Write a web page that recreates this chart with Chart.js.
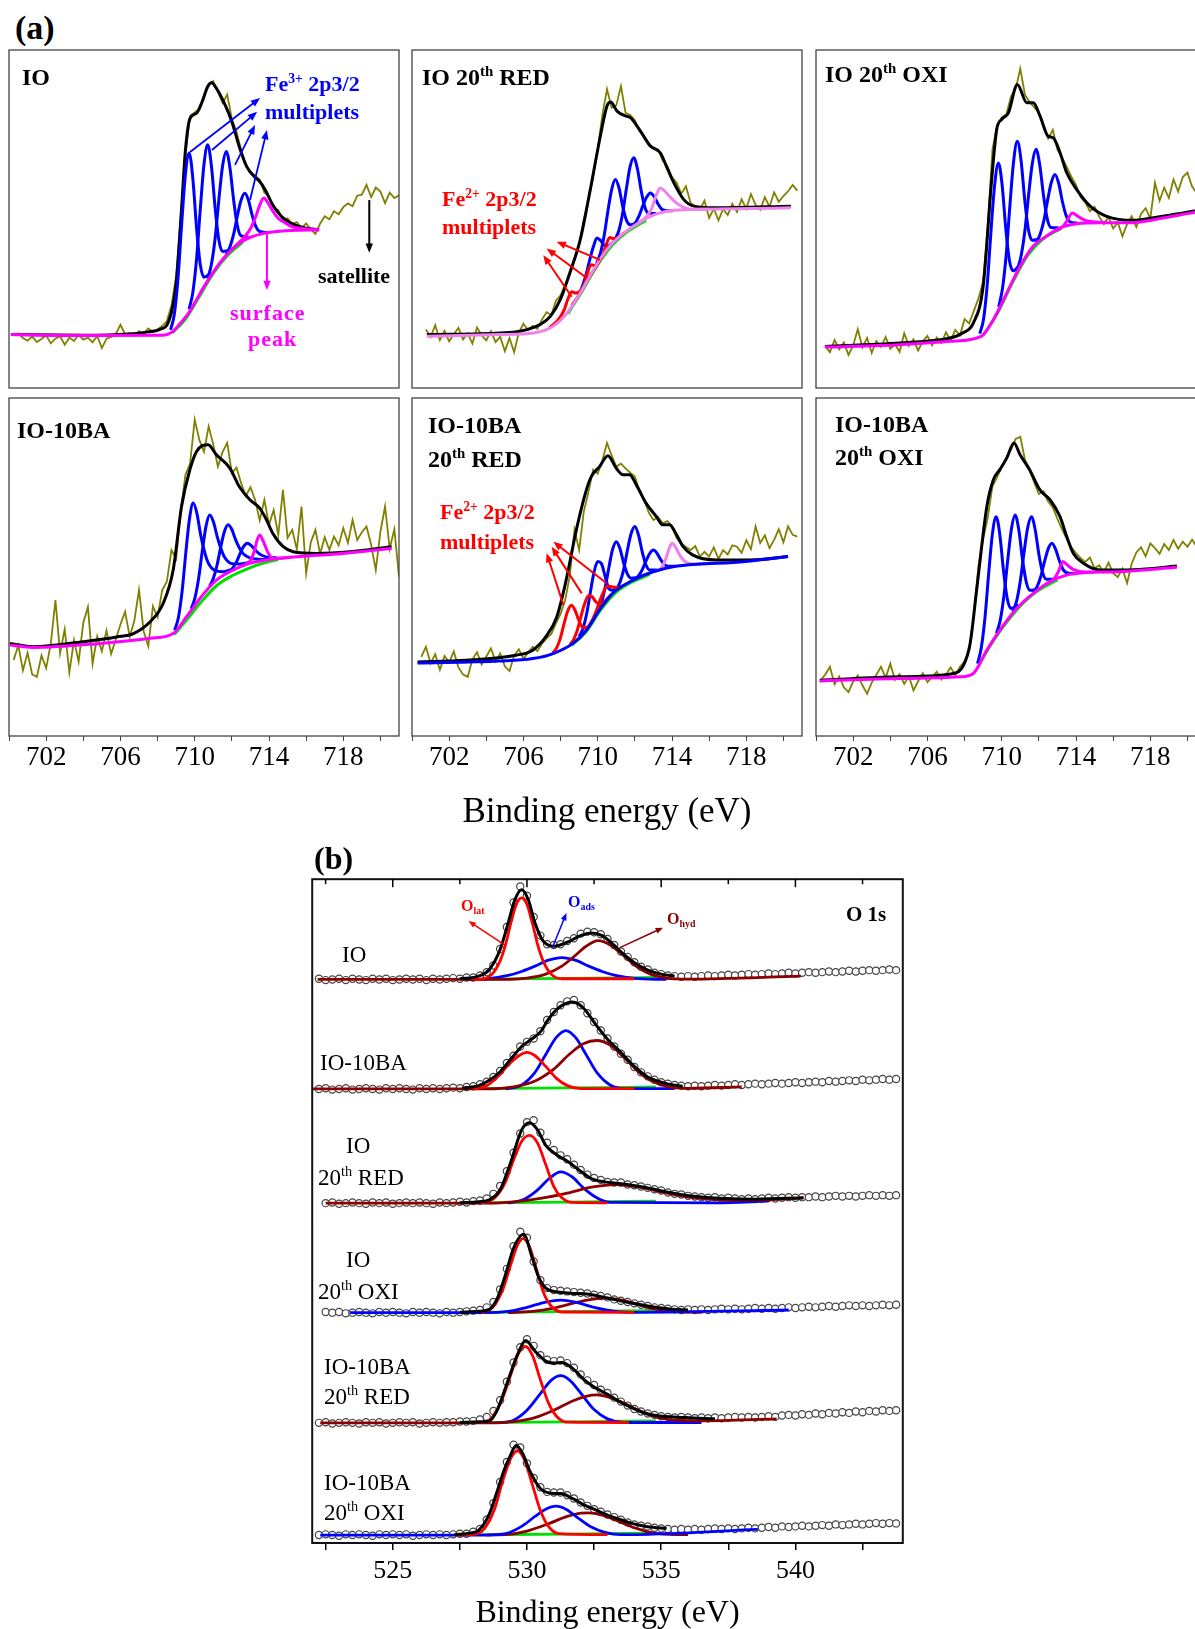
<!DOCTYPE html>
<html>
<head>
<meta charset="utf-8">
<script src="https://cdn.jsdelivr.net/npm/chart.js@4.4.0/dist/chart.umd.min.js"></script>
<style>
  body { margin: 0; width: 1195px; height: 1629px; overflow: hidden; background: #fff; position: relative; }
  .box { position: absolute; }
  .t { position: absolute; line-height: 1; transform: translateY(-50%); white-space: nowrap;
       font-family: 'Liberation Serif', 'Times New Roman', serif; color: #000; }
  .b { font-weight: bold; }
  .t sup { font-size: 62%; position: relative; top: -0.62em; vertical-align: baseline; line-height: 0; }
  .t sub { font-size: 62%; position: relative; top: 0.3em; vertical-align: baseline; line-height: 0; }
</style>
</head>
<body>
<div class="box" style="left:7px;top:48px"><canvas id="fe1" width="394" height="342"></canvas></div>
<div class="box" style="left:410px;top:48px"><canvas id="fe2" width="394" height="342"></canvas></div>
<div class="box" style="left:814px;top:48px"><canvas id="fe3" width="394" height="342"></canvas></div>
<div class="box" style="left:7px;top:396px"><canvas id="fe4" width="394" height="402"></canvas></div>
<div class="box" style="left:410px;top:396px"><canvas id="fe5" width="394" height="438"></canvas></div>
<div class="box" style="left:814px;top:396px"><canvas id="fe6" width="394" height="402"></canvas></div>
<div class="box" style="left:307px;top:874px"><canvas id="o1s" width="601" height="759"></canvas></div>

<!-- panel (a) labels -->
<div class="t b" style="left:15px;top:28px;font-size:34px">(a)</div>
<div class="t b" style="left:22px;top:77px;font-size:24px">IO</div>
<div class="t b" style="left:265px;top:84px;font-size:22px;color:#0000ff">Fe<sup>3+</sup> 2p3/2</div>
<div class="t b" style="left:265px;top:112px;font-size:22px;color:#0000ff">multiplets</div>
<div class="t b" style="left:318px;top:276px;font-size:22px">satellite</div>
<div class="t b" style="left:230px;top:313px;font-size:22px;color:#ff00ff;letter-spacing:1px">surface</div>
<div class="t b" style="left:248px;top:339px;font-size:22px;color:#ff00ff;letter-spacing:1px">peak</div>
<div class="t b" style="left:422px;top:77px;font-size:24px">IO 20<sup>th</sup> RED</div>
<div class="t b" style="left:442px;top:199px;font-size:22px;color:#ff0000">Fe<sup>2+</sup> 2p3/2</div>
<div class="t b" style="left:442px;top:227px;font-size:22px;color:#ff0000">multiplets</div>
<div class="t b" style="left:825px;top:74px;font-size:24px">IO 20<sup>th</sup> OXI</div>
<div class="t b" style="left:17px;top:430px;font-size:24px">IO-10BA</div>
<div class="t b" style="left:428px;top:425px;font-size:24px">IO-10BA</div>
<div class="t b" style="left:428px;top:459px;font-size:24px">20<sup>th</sup> RED</div>
<div class="t b" style="left:440px;top:512px;font-size:22px;color:#ff0000">Fe<sup>2+</sup> 2p3/2</div>
<div class="t b" style="left:440px;top:542px;font-size:22px;color:#ff0000">multiplets</div>
<div class="t b" style="left:835px;top:424px;font-size:24px">IO-10BA</div>
<div class="t b" style="left:835px;top:457px;font-size:24px">20<sup>th</sup> OXI</div>

<!-- panel (b) labels -->
<div class="t b" style="left:314px;top:858px;font-size:32px">(b)</div>
<div class="t b" style="left:846px;top:914px;font-size:21px">O 1s</div>
<div class="t b" style="left:461px;top:906px;font-size:16px;color:#ff0000">O<sub>lat</sub></div>
<div class="t b" style="left:568px;top:902px;font-size:16px;color:#0000ff">O<sub>ads</sub></div>
<div class="t b" style="left:667px;top:919px;font-size:16px;color:#8b0000">O<sub>hyd</sub></div>
<div class="t" style="left:342px;top:954px;font-size:23px">IO</div>
<div class="t" style="left:320px;top:1062px;font-size:23px">IO-10BA</div>
<div class="t" style="left:346px;top:1145px;font-size:23px">IO</div>
<div class="t" style="left:318px;top:1177px;font-size:23px">20<sup>th</sup> RED</div>
<div class="t" style="left:346px;top:1259px;font-size:23px">IO</div>
<div class="t" style="left:318px;top:1291px;font-size:23px">20<sup>th</sup> OXI</div>
<div class="t" style="left:324px;top:1366px;font-size:23px">IO-10BA</div>
<div class="t" style="left:324px;top:1396px;font-size:23px">20<sup>th</sup> RED</div>
<div class="t" style="left:324px;top:1482px;font-size:23px">IO-10BA</div>
<div class="t" style="left:324px;top:1512px;font-size:23px">20<sup>th</sup> OXI</div>

<script>
// ---------- (a) Fe 2p3/2 : measured energy grid (eV) ----------
const feGrid = [
  700.25,700.5,700.75,701,701.25,701.5,701.75,702,
  702.25,702.5,702.75,703,703.25,703.5,703.75,704,
  704.25,704.5,704.75,705,705.25,705.5,705.75,706,
  706.25,706.5,706.75,707,707.25,707.5,707.75,708,
  708.25,708.5,708.75,709,709.25,709.5,709.75,710,
  710.25,710.5,710.75,711,711.25,711.5,711.75,712,
  712.25,712.5,712.75,713,713.25,713.5,713.75,714,
  714.25,714.5,714.75,715,715.25,715.5,715.75,716,
  716.25,716.5,716.75,717,717.25,717.5,717.75,718,
  718.25,718.5,718.75,719,719.25,719.5,719.75,720,
  720.25,720.5,720.75,721
];

// raw counts (arbitrary units, 0-100 of each frame)
const feRawIO = [
  15.5,16.2,14.8,14.0,15.2,13.6,14.5,15.6,
  13.2,14.6,15.3,12.8,14.9,13.9,15.8,14.3,
  14.9,13.5,15.4,11.8,14.6,15.1,16.0,18.7,
  15.9,16.3,15.4,16.8,16.1,17.6,16.6,17.3,
  18.4,19.8,24.5,33.0,51.0,69.0,80.5,81.5,
  82.6,86.2,89.6,90.8,87.5,84.3,86.8,79.6,
  75.9,70.3,66.0,63.8,62.9,61.6,57.8,56.7,
  53.3,52.6,49.6,50.2,48.5,49.1,47.3,48.7,
  46.9,45.6,48.6,50.8,49.9,52.3,51.4,53.5,
  54.6,53.8,56.9,57.2,60.1,56.5,59.3,58.1,
  54.7,57.8,56.2,57.0
];
const feRawIORed = [
  null,null,17.3,15.1,18.6,14.2,16.9,13.8,
  15.9,17.8,14.4,16.2,13.1,17.9,15.6,14.1,
  16.8,13.6,15.2,10.9,14.8,10.6,16.4,19.0,
  17.1,18.4,17.5,20.3,22.4,21.6,25.8,27.4,
  30.6,33.5,37.9,42.4,49.8,55.6,62.5,70.5,
  80.8,88.4,82.9,83.6,89.3,81.4,80.8,79.2,
  76.0,74.5,72.3,71.0,70.6,67.2,65.6,62.4,
  60.7,57.5,59.7,54.8,53.6,52.8,55.4,50.3,
  53.1,49.6,52.9,51.2,54.5,52.1,55.8,53.0,
  57.4,54.2,52.7,56.5,53.6,57.9,55.1,56.8,
  58.2,60.1,58.4,null
];
const feRawIOOxi = [
  null,12.3,10.6,14.2,11.4,13.5,9.8,12.6,
  17.4,12.0,14.8,10.4,13.9,12.2,15.1,11.6,
  13.0,10.7,16.2,12.5,14.4,11.1,13.8,15.4,
  12.6,14.9,13.3,16.5,14.0,17.2,15.6,20.4,
  19.1,22.8,26.5,31.5,48.0,70.5,77.6,80.1,
  81.0,86.3,88.4,94.5,86.8,84.6,83.0,81.6,
  77.2,73.8,76.4,70.5,68.2,65.4,62.5,60.1,
  56.5,54.9,52.3,53.6,50.7,48.5,50.6,47.2,
  49.0,44.9,48.5,50.8,47.6,51.5,53.2,50.1,
  60.7,55.4,59.3,56.2,61.7,58.1,62.4,63.7,
  59.6,57.7,61.0,58.3
];
const feRawBA = [
  22.5,26.8,19.4,24.6,18.2,17.5,23.8,20.1,
  27.3,40.2,24.5,31.6,18.8,28.4,22.0,33.5,
  38.2,21.4,29.5,25.1,31.2,24.3,28.6,33.0,
  36.8,29.4,34.1,43.2,31.0,26.6,38.4,35.2,
  43.2,45.7,55.0,52.4,66.8,77.2,80.6,93.6,
  87.6,84.1,91.6,86.2,79.7,84.0,86.7,77.8,
  79.4,74.8,71.0,73.6,69.9,63.8,69.9,62.5,
  66.9,59.4,72.8,58.6,61.0,55.2,67.9,48.1,
  57.3,61.0,53.9,58.8,55.1,59.0,56.4,61.5,
  57.2,63.9,58.0,60.3,62.0,56.6,49.1,60.5,
  67.9,55.4,61.2,47.1
];
const feRawBARed = [
  null,23.4,26.4,21.5,24.2,19.6,23.7,21.8,
  25.0,20.3,18.2,17.5,22.6,24.8,21.2,23.5,
  25.9,22.1,24.4,20.6,19.2,23.8,25.7,22.9,
  24.6,26.4,25.1,27.3,28.9,30.2,33.3,36.1,
  40.2,47.5,61.0,55.0,66.4,72.1,78.8,77.6,
  81.5,86.7,83.0,79.7,80.6,79.2,77.9,76.8,
  72.4,69.9,66.1,63.9,64.8,62.9,63.6,62.0,
  58.6,57.0,55.9,55.0,56.2,53.1,54.5,53.1,
  55.8,52.4,55.0,53.7,56.4,56.0,54.2,57.9,
  55.3,62.0,57.1,59.4,55.6,58.0,61.2,57.3,
  62.0,59.5,59.0,null
];
const feRawBAOxi = [
  16.5,18.2,20.5,15.3,17.6,14.4,13.0,16.1,
  17.9,15.0,12.5,15.8,18.1,20.5,17.2,21.4,
  16.6,18.3,15.4,17.7,13.5,16.2,18.6,15.9,
  17.4,19.0,16.7,18.2,20.3,18.0,20.5,22.1,
  25.4,36.0,50.5,58.2,64.6,73.9,76.5,79.6,
  82.4,84.7,87.9,88.5,81.8,78.8,75.0,71.6,
  72.4,69.4,67.6,64.2,61.1,58.3,55.8,54.1,
  52.6,51.5,52.8,49.6,50.5,48.4,51.3,48.2,
  47.0,49.5,45.2,51.0,54.3,55.8,53.2,57.0,
  55.6,53.9,56.8,55.0,58.0,55.4,57.5,56.0,
  58.1,56.0,null,null
];

// fitted envelopes, backgrounds and components: [energy, intensity]
const feFitIO = [[700.1,15.8],[704,15.6],[706.5,16.0],[707.5,16.6],[708.1,17.3],[708.6,19.7],[709.0,31.0],[709.3,53.7],[709.5,70.4],[709.75,79.8],[710.1,81.3],[710.4,84.7],[710.7,89.2],[710.9,90.3],[711.2,88.4],[711.6,84.2],[712.0,78.8],[712.4,71.4],[712.8,65.5],[713.2,62.6],[713.5,61.1],[713.8,58.6],[714.2,54.2],[714.6,51.2],[715.0,49.3],[715.5,48.0],[716.0,47.3],[716.7,46.8]];
const feBgIO = [[700.1,15.8],[704,15.5],[708.3,15.6],[708.8,16.6],[709.2,19.0],[709.6,21.6],[710.0,25.2],[710.5,30.0],[711.0,34.3],[711.5,38.0],[712.0,41.0],[712.5,43.2],[713.0,44.6],[713.6,45.6],[714.3,46.2],[715.2,46.6],[716.7,46.8]];
const feGreenIO = [[708.8,16.3],[709.5,20.4],[710.2,26.6],[711.0,33.9],[711.8,39.4],[712.6,43.2]];
const feSurfIO = [[712.1,41.5],[712.7,44.8],[713.0,47.1],[713.3,50.9],[713.5,54.1],[713.72,56.2],[713.95,54.7],[714.2,52.4],[714.5,50.2],[714.8,49.1],[715.3,47.6],[715.8,47.2],[716.7,46.8]];
const feB1IO = [[708.7,17.2],[708.9,21.7],[709.1,32.4],[709.3,48.7],[709.5,63.2],[709.7,69.5],[709.9,61.9],[710.1,47.3],[710.3,36.5],[710.5,32.8],[710.9,34.0]];
const feB2IO = [[709.7,23.3],[709.9,28.3],[710.1,38.2],[710.3,52.9],[710.5,66.2],[710.7,72.0],[710.9,65.7],[711.1,53.2],[711.3,43.8],[711.5,40.4],[711.9,40.8]];
const feB3IO = [[710.7,32.4],[710.9,36.6],[711.1,44.3],[711.3,55.7],[711.5,65.7],[711.7,70.0],[711.9,65.0],[712.1,55.4],[712.3,47.9],[712.5,45.0],[712.9,44.7]];
const feB4IO = [[711.7,39.5],[711.9,41.8],[712.1,45.6],[712.3,51.0],[712.5,55.6],[712.7,57.6],[712.9,55.4],[713.1,51.0],[713.3,47.7],[713.5,46.3],[713.9,46.0]];

const feFitIORed = [[700.8,15.8],[704.75,16.3],[705.8,16.8],[706.9,18.8],[707.45,21.2],[707.99,26.2],[708.5,34.1],[709.06,43.9],[709.6,58.7],[710.14,74.5],[710.5,83.4],[710.7,84.6],[711.04,81.9],[711.49,80.5],[711.76,80.0],[712.3,76.0],[712.83,71.6],[713.37,69.6],[713.73,65.2],[714.1,60.7],[714.63,55.8],[715.17,53.8],[716.4,53.3],[720.4,53.8]];
const feBgIORed = [[700.8,15.3],[704.75,15.8],[706.55,16.3],[707.6,18.3],[708.35,22.2],[709.06,28.1],[709.78,35.0],[710.5,41.0],[711.2,44.9],[711.94,47.9],[712.83,50.8],[713.73,52.3],[715.0,52.8],[717.3,53.0],[720.4,53.3]];
const feGreenIORed = [[708.4,22.0],[709.2,29.0],[710.0,36.5],[710.8,42.4],[711.6,46.3],[712.6,49.6]];
const feSurfIORed = [[712.0,48.1],[712.6,50.6],[712.9,53.0],[713.15,57.0],[713.37,59.2],[713.6,58.3],[713.9,56.5],[714.2,54.9],[714.6,53.5],[715.1,52.9],[716.0,52.9]];
const feB1IORed = [[708.96,27.5],[709.16,29.9],[709.36,33.3],[709.56,37.7],[709.76,41.7],[709.96,44.4],[710.16,43.6],[710.36,42.2],[710.56,42.0],[710.76,42.8],[711.16,44.8]];
const feB2IORed = [[709.95,36.9],[710.15,40.0],[710.35,45.2],[710.55,52.4],[710.75,58.7],[710.95,61.7],[711.15,59.1],[711.35,53.6],[711.55,49.6],[711.75,48.3],[712.15,48.8]];
const feB3IORed = [[710.94,44.0],[711.14,46.6],[711.34,51.6],[711.54,58.8],[711.74,65.4],[711.94,68.1],[712.14,64.8],[712.34,58.4],[712.54,53.5],[712.74,51.7],[713.14,51.6]];
const feB4IORed = [[711.83,47.6],[712.03,48.9],[712.23,51.0],[712.43,53.9],[712.63,56.4],[712.83,57.7],[713.03,56.7],[713.23,54.6],[713.43,53.0],[713.63,52.5],[714.03,52.4]];
const feR1IORed = [[707.4,17.8],[707.9,20.4],[708.2,23.2],[708.4,26.4],[708.6,28.5],[708.8,28.1],[709.0,28.4],[709.3,30.5],[709.7,34.2]];
const feR2IORed = [[708.6,24.4],[709.1,28.5],[709.3,31.0],[709.45,34.0],[709.65,36.5],[709.85,36.2],[710.05,37.5],[710.4,40.2]];
const feR3IORed = [[709.6,33.3],[710.1,37.6],[710.3,39.8],[710.45,42.3],[710.65,44.5],[710.85,44.2],[711.05,44.4],[711.4,45.8]];

const feFitIOOxi = [[700.48,12.3],[704.5,13.3],[707.2,14.8],[707.9,16.3],[708.47,19.2],[709.0,30.1],[709.46,61.7],[709.73,76.5],[710.0,79.5],[710.36,81.4],[710.84,89.8],[711.35,84.4],[711.7,84.4],[712.06,80.5],[712.5,74.5],[712.78,74.0],[713.14,69.6],[713.5,63.7],[714.04,58.7],[714.76,53.8],[715.65,50.8],[717.1,49.6],[718.0,50.2],[720.4,52.4],[721,52.9]];
const feBgIOOxi = [[700.48,12.1],[704.5,12.8],[707.2,13.8],[708.9,15.3],[709.55,20.2],[710.27,28.1],[710.99,36.0],[711.7,42.0],[712.4,44.9],[713.14,47.4],[714.04,48.6],[715.3,48.9],[717.1,48.9],[717.8,49.4],[720.4,52.0],[721,52.5]];
const feGreenIOOxi = [[709.0,15.6],[709.8,22.4],[710.6,31.4],[711.4,39.2],[712.2,44.0],[713.2,47.2]];
const feSurfIOOxi = [[712.8,46.3],[713.3,47.8],[713.55,49.8],[713.8,51.8],[714.1,50.8],[714.5,49.6],[715.0,49.1],[715.6,48.9]];
const feB1IOOxi = [[708.82,16.1],[709.02,20.3],[709.22,30.6],[709.42,46.2],[709.62,60.1],[709.82,66.6],[710.02,60.2],[710.22,47.1],[710.42,37.6],[710.62,34.7],[711.02,36.7]];
const feB2IOOxi = [[709.84,24.0],[710.04,29.4],[710.24,39.3],[710.44,53.9],[710.64,67.0],[710.84,73.0],[711.04,67.4],[711.24,55.6],[711.44,46.8],[711.64,43.7],[712.04,44.1]];
const feB3IOOxi = [[710.85,35.1],[711.05,39.3],[711.25,46.6],[711.45,57.2],[711.65,66.5],[711.85,70.6],[712.05,65.9],[712.25,57.0],[712.45,50.1],[712.65,47.5],[713.05,47.4]];
const feB4IOOxi = [[711.87,43.2],[712.07,45.5],[712.27,49.5],[712.47,55.5],[712.67,60.8],[712.87,63.2],[713.07,60.5],[713.27,55.1],[713.47,51.0],[713.67,49.2],[714.07,48.8]];

const feFitBA = [[700.04,27.4],[701.3,26.4],[704.0,27.9],[705.8,29.3],[706.7,30.3],[707.6,33.8],[708.3,39.2],[708.84,49.1],[709.29,67.9],[709.74,78.8],[710.1,84.2],[710.72,86.2],[711.17,83.2],[711.9,79.2],[712.4,73.8],[712.97,69.9],[713.5,67.4],[713.87,63.9],[714.2,60.0],[714.77,56.0],[715.3,54.5],[716.56,54.0],[718.36,54.5],[720.6,56.0]];
const feBgBA = [[700.04,26.9],[701.3,26.2],[704.9,27.4],[707.6,28.9],[708.84,30.3],[709.56,35.3],[710.28,40.7],[711.17,46.1],[712.07,49.1],[712.97,51.1],[713.87,52.1],[715.66,53.1],[717.46,53.8],[720.6,55.5]];
const feGreenBA = [[708.9,30.0],[709.6,34.6],[710.4,40.0],[711.2,44.6],[712.0,47.4],[712.8,49.4],[713.6,51.0],[714.5,52.2]];
const feSurfBA = [[712.6,50.4],[713.0,51.9],[713.2,54.5],[713.35,57.8],[713.5,59.5],[713.7,57.5],[713.95,54.2],[714.2,52.6],[714.6,52.6],[715.2,52.9]];
const feB1BA = [[708.92,31.3],[709.12,35.0],[709.32,42.8],[709.52,54.2],[709.72,64.3],[709.92,68.9],[710.12,65.8],[710.32,59.5],[710.52,54.7],[710.72,51.3],[711.12,48.9],[711.52,48.6],[712.12,49.5]];
const feB2BA = [[709.81,37.6],[710.01,40.8],[710.21,46.6],[710.41,54.8],[710.61,62.1],[710.81,65.4],[711.01,63.3],[711.21,59.0],[711.41,55.5],[711.61,52.9],[712.01,51.0],[712.41,50.9],[713.01,51.4]];
const feB3BA = [[710.8,44.3],[711.0,46.6],[711.2,50.5],[711.4,55.9],[711.6,60.5],[711.8,62.5],[712.0,61.1],[712.2,58.1],[712.4,55.7],[712.6,54.0],[713.0,52.6],[713.4,52.3],[714.0,52.2]];
const feB4BA = [[711.83,48.4],[712.03,49.6],[712.23,51.3],[712.43,53.8],[712.63,56.0],[712.83,57.0],[713.03,56.4],[713.23,55.2],[713.43,54.1],[713.63,53.4],[714.03,52.8],[714.43,52.7]];

const feFitBARed = [[700.3,21.9],[702.9,22.4],[705.6,23.9],[706.5,25.4],[707.2,29.3],[707.8,35.3],[708.3,46.1],[708.85,61.0],[709.39,72.8],[709.66,76.8],[710.1,79.7],[710.55,82.9],[711.0,79.2],[711.36,77.3],[711.72,77.3],[712.08,74.3],[712.6,68.9],[713.16,64.9],[713.5,62.5],[713.87,62.5],[714.2,60.0],[714.6,56.0],[715.1,53.6],[716.4,52.1],[718.2,52.1],[720.25,53.1]];
const feBgBARed = [[700.3,21.6],[704.7,22.2],[706.5,22.9],[707.6,24.4],[708.67,27.4],[709.39,31.3],[710.1,37.3],[710.8,42.2],[711.9,46.1],[712.98,48.6],[714.05,50.1],[715.5,50.9],[717.3,51.3],[720.25,53.1]];
const feGreenBARed = [[708.6,26.8],[709.4,31.0],[710.2,37.6],[711.0,42.6],[711.8,45.4],[712.8,47.8]];
const feSurfBARed = [[713.0,48.6],[713.4,49.6],[713.65,52.2],[713.85,55.5],[714.0,57.0],[714.2,55.8],[714.45,53.2],[714.75,51.4],[715.2,50.8],[716.0,51.0]];
const feB1BARed = [[709.0,29.4],[709.2,31.7],[709.4,36.0],[709.6,42.4],[709.8,48.4],[710.0,51.6],[710.2,51.0],[710.4,47.2],[710.6,43.6],[710.8,43.1],[711.2,44.1]];
const feB2BARed = [[710.0,36.7],[710.2,39.5],[710.4,43.9],[710.6,49.8],[710.8,55.2],[711.0,57.5],[711.2,55.4],[711.4,51.1],[711.6,47.9],[711.8,46.7],[712.2,46.9]];
const feB3BARed = [[711.0,43.4],[711.2,45.5],[711.4,49.3],[711.6,55.0],[711.8,59.9],[712.0,62.0],[712.2,59.4],[712.4,54.4],[712.6,50.6],[712.8,49.1],[713.2,49.1]];
const feB4BARed = [[712.0,46.4],[712.2,47.4],[712.4,49.2],[712.6,51.8],[712.8,54.0],[713.0,55.0],[713.2,54.0],[713.4,52.1],[713.6,50.7],[713.8,50.2],[714.2,50.2]];
const feR1BARed = [[707.58,24.6],[707.78,26.0],[707.98,28.8],[708.18,33.1],[708.38,36.9],[708.58,38.7],[708.78,37.2],[708.98,34.2],[709.18,32.2],[709.38,32.0],[709.78,34.6]];
const feR2BARed = [[708.5,27.0],[708.7,28.5],[708.9,31.3],[709.1,35.4],[709.3,39.2],[709.5,41.5],[709.7,41.2],[709.9,39.7],[710.1,39.0],[710.3,39.5],[710.7,41.6]];
const feR3BARed = [[709.5,32.3],[709.7,34.2],[709.9,36.7],[710.1,39.8],[710.3,42.5],[710.5,44.3],[710.7,44.2],[710.9,44.0],[711.1,43.9],[711.3,44.3]];

const feFitBAOxi = [[700.2,16.5],[704.5,17.5],[707.4,18.5],[707.94,20.9],[708.3,27.4],[708.65,43.2],[709.2,67.9],[709.55,75.8],[709.9,78.8],[710.27,82.2],[710.66,86.7],[710.99,83.2],[711.5,78.8],[712.06,72.8],[712.6,69.9],[713.14,64.9],[713.5,59.0],[713.86,54.0],[714.4,51.1],[715.3,49.1],[717.1,49.2],[719.43,50.3]];
const feBgBAOxi = [[700.2,16.3],[704.5,17.0],[707.76,17.5],[708.47,18.5],[709.2,25.4],[709.9,31.3],[710.8,37.7],[711.7,42.2],[712.6,45.7],[713.5,47.6],[714.4,48.3],[716.2,48.6],[719.43,49.9]];
const feGreenBAOxi = [[708.8,21.4],[709.6,28.6],[710.4,34.6],[711.2,39.6],[712.0,43.2],[713.0,46.2]];
const feSurfBAOxi = [[712.4,45.0],[712.8,46.4],[713.05,48.6],[713.3,51.6],[713.55,50.5],[713.85,49.3],[714.3,48.6],[715.0,48.5]];
const feB1BAOxi = [[708.7,21.4],[708.9,26.1],[709.1,35.1],[709.3,48.2],[709.5,59.8],[709.7,64.9],[709.9,59.5],[710.1,48.7],[710.3,40.6],[710.5,37.7],[710.9,38.7]];
const feB2BAOxi = [[709.72,30.4],[709.92,34.2],[710.12,41.5],[710.32,51.8],[710.52,61.2],[710.72,65.4],[710.92,61.0],[711.12,52.2],[711.32,45.6],[711.52,43.1],[711.92,43.4]];
const feB3BAOxi = [[710.6,36.8],[710.8,39.9],[711.0,45.8],[711.2,54.2],[711.4,61.7],[711.6,64.9],[711.8,61.1],[712.0,53.8],[712.2,48.4],[712.4,46.4],[712.8,46.4]];
const feB4BAOxi = [[711.7,42.4],[711.9,44.1],[712.1,47.1],[712.3,51.5],[712.5,55.3],[712.7,57.0],[712.9,55.3],[713.1,51.9],[713.3,49.3],[713.5,48.3],[713.9,48.0]];

// annotation arrows [x1, y1, x2, y2] in data units
const feArrowsFe3 = [[709.75,69.8,713.52,85.8],[710.93,70.4,713.36,81.7],[712.17,66.0,713.25,77.8],[712.98,55.6,713.89,76.3]];
const feArrowSurface = [713.89,45.9,713.89,29.0];
const feArrowSatellite = [719.4,55.6,719.4,40.0];
const feArrowsFe2IO = [[710.12,37.9,707.79,43.3],[709.32,32.9,707.25,41.3],[708.6,27.0,707.07,39.3]];
const feArrowsFe2BA = [[710.48,45.2,707.61,57.5],[709.14,42.2,707.52,56.0],[708.15,38.8,707.25,54.1]];

// ---------- (b) O 1s ----------
const oGrid = [
  522.25,522.5,522.75,523,523.25,523.5,523.75,524,
  524.25,524.5,524.75,525,525.25,525.5,525.75,526,
  526.25,526.5,526.75,527,527.25,527.5,527.75,528,
  528.25,528.5,528.75,529,529.25,529.5,529.75,530,
  530.25,530.5,530.75,531,531.25,531.5,531.75,532,
  532.25,532.5,532.75,533,533.25,533.5,533.75,534,
  534.25,534.5,534.75,535,535.25,535.5,535.75,536,
  536.25,536.5,536.75,537,537.25,537.5,537.75,538,
  538.25,538.5,538.75,539,539.25,539.5,539.75,540,
  540.25,540.5,540.75,541,541.25,541.5,541.75,542,
  542.25,542.5,542.75,543,543.25,543.5,543.75
];
const oSamples = ['IO', 'IO-10BA', 'IO 20th RED', 'IO 20th OXI', 'IO-10BA 20th RED', 'IO-10BA 20th OXI'];
const oStackShift = [84.9, 68.4, 51.2, 34.7, 18.1, 1.2];

const oRawIO = [
  0.1,-0.1,0.0,0.1,-0.1,0.1,0.0,-0.1,
  0.1,0.0,0.1,-0.1,0.0,0.1,0.0,0.1,
  -0.1,0.1,0.0,0.1,0.2,0.1,0.3,0.3,
  0.6,1.1,2.1,4.6,7.9,11.6,14.0,12.6,
  9.4,6.6,5.3,5.2,5.3,5.8,6.2,6.9,
  7.2,7.1,6.8,6.1,5.2,4.2,3.4,2.6,
  1.9,1.5,1.0,0.8,0.6,0.5,0.4,0.5,
  0.4,0.5,0.6,0.5,0.6,0.7,0.6,0.7,
  0.8,0.7,0.8,0.9,0.8,0.9,1.0,0.9,
  1.0,1.1,1.0,1.1,1.2,1.1,1.2,1.3,
  1.2,1.3,1.4,1.3,1.4,1.5,1.4
];
const oRawBA = [
  0.0,0.1,-0.1,0.0,0.1,-0.1,0.0,0.1,
  0.0,-0.1,0.1,0.0,0.1,0.0,-0.1,0.1,
  0.0,0.1,0.0,0.1,0.2,0.1,0.3,0.4,
  0.7,1.1,1.8,2.7,3.9,5.0,6.4,7.1,
  7.6,8.7,10.4,11.6,12.6,13.2,13.4,12.6,
  11.4,10.1,8.8,7.6,6.4,5.3,4.4,3.3,
  2.5,1.9,1.4,1.0,0.8,0.6,0.5,0.4,
  0.5,0.4,0.5,0.6,0.5,0.6,0.7,0.6,
  0.7,0.8,0.7,0.8,0.9,0.8,0.9,1.0,
  0.9,1.0,1.1,1.0,1.2,1.1,1.2,1.3,
  1.2,1.4,1.3,1.4,1.5,1.4,1.5
];
const oRawIORed = [
  null,0.0,0.1,-0.1,0.0,0.1,0.0,-0.1,
  0.1,0.0,0.1,-0.1,0.0,0.1,0.0,0.1,
  0.0,-0.1,0.1,0.0,0.1,0.2,0.1,0.3,
  0.4,0.7,1.4,2.6,4.8,7.6,10.5,12.2,
  12.5,10.6,9.1,8.0,7.2,6.6,5.8,5.0,
  4.3,3.8,3.5,3.2,3.1,3.1,2.8,2.7,
  2.5,2.3,2.1,1.9,1.6,1.4,1.3,1.1,
  1.0,0.9,0.8,0.9,0.7,0.8,0.7,0.6,
  0.7,0.6,0.7,0.8,0.7,0.8,0.9,0.8,
  0.9,0.9,1.0,0.9,1.0,1.1,1.0,1.1,
  1.0,1.1,1.2,1.1,1.2,1.1,1.2
];
const oRawIOOxi = [
  null,0.1,0.0,0.1,-0.1,0.0,0.1,0.0,
  -0.1,0.1,0.0,0.1,0.0,-0.1,0.1,0.0,
  0.1,0.0,-0.1,0.1,0.0,0.1,0.2,0.3,
  0.4,0.8,1.6,3.5,6.6,10.0,12.2,11.3,
  7.7,4.9,3.7,3.4,3.3,3.2,3.1,3.0,
  2.9,2.7,2.5,2.3,2.0,1.8,1.6,1.4,
  1.2,1.0,0.8,0.7,0.6,0.5,0.4,0.5,
  0.4,0.5,0.4,0.5,0.6,0.5,0.6,0.5,
  0.6,0.7,0.6,0.7,0.6,0.7,0.8,0.7,
  0.8,0.9,0.8,0.9,1.0,0.9,1.0,1.1,
  1.0,1.1,1.0,1.1,1.2,1.1,1.2
];
const oRawBARed = [
  0.0,0.1,-0.1,0.0,0.1,0.0,-0.1,0.1,
  0.0,0.1,-0.1,0.0,0.1,0.0,0.1,-0.1,
  0.0,0.1,0.0,0.1,0.1,0.2,0.2,0.3,
  0.5,0.9,1.8,3.4,6.2,9.1,11.4,12.6,
  11.6,10.2,9.5,9.3,9.4,9.0,8.3,7.3,
  6.4,5.7,5.0,4.5,3.8,3.2,2.6,2.1,
  1.7,1.4,1.2,1.0,0.9,0.8,0.9,0.8,
  0.7,0.8,0.7,0.8,0.7,0.8,0.9,0.8,
  0.9,0.8,0.9,1.0,0.9,1.1,1.2,1.1,
  1.3,1.2,1.4,1.3,1.5,1.4,1.6,1.5,
  1.7,1.6,1.8,1.7,1.9,1.8,1.9
];
const oRawBAOxi = [
  0.0,0.1,0.0,-0.1,0.1,0.0,0.1,0.0,
  -0.1,0.1,0.0,0.1,0.0,0.1,-0.1,0.0,
  0.1,0.0,0.1,0.0,0.1,0.2,0.2,0.5,
  0.9,2.3,4.8,8.0,11.0,13.6,13.2,10.8,
  8.6,7.2,6.5,6.4,6.4,6.0,5.5,4.9,
  4.4,3.9,3.5,3.1,2.7,2.3,1.9,1.6,
  1.4,1.3,1.1,1.0,0.9,0.8,0.9,0.8,
  0.9,0.8,0.9,1.0,0.9,1.0,0.9,1.0,
  1.1,1.0,1.1,1.2,1.1,1.3,1.2,1.3,
  1.4,1.3,1.4,1.5,1.4,1.6,1.5,1.6,
  1.7,1.6,1.7,1.8,1.7,1.8,1.75
];

// fits: [energy, intensity above the stack shift]
const oFitIO = [[527.5,0.1],[528.2,0.5],[528.6,1.5],[529.0,4.5],[529.3,8.5],[529.55,12.0],[529.8,13.5],[530.05,12.0],[530.3,8.5],[530.6,5.8],[531.0,5.0],[531.5,5.6],[532.0,6.6],[532.4,7.0],[532.8,6.6],[533.2,5.3],[533.6,3.8],[534.0,2.5],[534.5,1.4],[535.0,0.8],[535.5,0.5]];
const oLatIO = [[528.0,0],[528.3,0.05],[528.7,0.8],[529.0,2.8],[529.2,5.2],[529.4,8.5],[529.6,11.3],[529.8,12.3],[530.0,11.3],[530.2,8.5],[530.4,5.2],[530.6,2.8],[530.9,0.8],[531.3,0.1],[534.0,0.1]];
const oAdsIO = [[527.7,0],[528.5,0.1],[529.3,0.6],[529.8,1.2],[530.3,2.0],[530.8,2.9],[531.3,3.3],[531.8,2.9],[532.3,2.0],[532.8,1.2],[533.3,0.6],[534.0,0.15],[535.2,0]];
const oHydIO = [[522.2,0],[529.0,0],[530.0,0.2],[530.7,0.8],[531.3,2.0],[531.8,3.6],[532.2,5.0],[532.65,5.85],[533.1,5.2],[533.6,3.6],[534.1,1.9],[534.6,0.8],[535.2,0.2],[536.0,0.05],[540.2,0.5]];

const oFitBA = [[527.6,0.1],[528.2,0.5],[528.6,1.3],[529.0,2.6],[529.4,4.5],[529.8,6.4],[530.1,7.3],[530.5,8.6],[530.8,10.5],[531.2,12.3],[531.7,13.1],[532.1,12.2],[532.6,9.5],[533.0,7.5],[533.5,5.5],[534.0,3.4],[534.5,1.8],[535.2,0.8],[535.8,0.4]];
const oLatBA = [[528.0,0],[528.5,0.5],[528.9,1.8],[529.3,3.6],[529.7,5.0],[530.0,5.5],[530.3,5.0],[530.7,3.4],[531.1,1.6],[531.5,0.5],[532.0,0.05],[534.0,0.05]];
const oAdsBA = [[529.2,0],[529.8,0.6],[530.3,2.5],[530.7,5.2],[531.1,7.8],[531.45,8.8],[531.8,7.8],[532.2,5.2],[532.6,2.5],[533.1,0.6],[533.6,0.05],[535.5,0.05]];
const oHydBA = [[522.0,0],[528.5,0],[529.5,0.3],[530.3,1.2],[531.0,3.0],[531.6,5.3],[532.1,6.8],[532.6,7.3],[533.1,6.6],[533.6,4.8],[534.1,2.8],[534.6,1.3],[535.2,0.4],[536.0,0.1],[538.0,0.3]];

const oFitIORed = [[527.5,0.05],[528.2,0.2],[528.6,0.5],[529.0,2.0],[529.4,6.2],[529.8,11.0],[530.1,12.1],[530.4,11.0],[530.7,8.7],[531.1,7.3],[531.55,6.2],[532.0,4.8],[532.4,3.7],[532.9,3.2],[533.3,3.0],[533.9,2.7],[534.5,2.3],[535.2,1.7],[535.9,1.2],[536.6,0.9],[537.4,0.7],[538.5,0.6],[540.3,0.8]];
const oLatIORed = [[528.3,0],[528.8,0.8],[529.2,3.2],[529.5,6.5],[529.8,9.3],[530.1,10.2],[530.4,9.0],[530.7,5.8],[531.0,2.5],[531.3,0.8],[531.7,0.1],[533.0,0.05]];
const oAdsIORed = [[529.3,0],[529.9,0.6],[530.4,2.0],[530.8,3.6],[531.26,4.7],[531.7,3.9],[532.1,2.3],[532.6,0.8],[533.1,0.1],[537.0,0.05],[539.0,0.3]];
const oHydIORed = [[522.5,0],[528.5,0],[529.5,0.2],[530.5,0.7],[531.5,1.5],[532.4,2.4],[533.3,2.8],[534.2,2.4],[535.0,1.7],[535.9,1.0],[536.8,0.6],[537.6,0.45],[538.5,0.45],[540.3,0.8]];

const oFitIOOxi = [[527.5,0.05],[528.2,0.2],[528.6,0.5],[528.9,2.2],[529.2,5.7],[529.5,9.7],[529.87,11.8],[530.2,8.2],[530.45,5.2],[530.7,3.7],[531.0,3.2],[531.4,3.0],[531.85,2.9],[532.4,2.7],[533.0,2.2],[533.7,1.6],[534.5,1.0],[535.4,0.5],[536.0,0.4]];
const oLatIOOxi = [[528.3,0],[528.7,0.7],[529.1,3.5],[529.4,7.3],[529.65,10.2],[529.87,11.2],[530.1,9.9],[530.35,6.6],[530.6,3.2],[530.9,1.0],[531.3,0.1],[534.0,0.05]];
const oAdsIOOxi = [[523.4,0],[528.5,0],[529.3,0.2],[530.0,0.8],[530.7,1.6],[531.26,1.9],[531.8,1.6],[532.5,0.8],[533.3,0.2],[534.2,0.05],[539.75,0.4]];
const oHydIOOxi = [[529.3,0],[530.2,0.2],[531.0,0.7],[531.8,1.5],[532.4,2.0],[532.87,2.2],[533.4,2.0],[534.0,1.4],[534.7,0.6],[535.4,0.2],[536.5,0.05]];

const oFitBARed = [[527.5,0.05],[528.2,0.15],[528.6,0.3],[528.9,2.0],[529.2,5.3],[529.45,8.2],[529.65,10.3],[529.95,12.4],[530.3,10.8],[530.7,9.3],[531.0,9.0],[531.3,9.1],[531.7,8.2],[532.1,6.6],[532.5,5.4],[533.0,4.3],[533.4,3.3],[533.9,2.3],[534.3,1.6],[534.8,1.1],[535.9,0.8],[537.0,0.6]];
const oLatBARed = [[528.3,0],[528.7,0.8],[529.1,3.8],[529.45,7.9],[529.7,10.6],[529.94,11.5],[530.2,10.2],[530.5,6.5],[530.8,3.0],[531.1,1.0],[531.5,0.1],[533.8,0.05]];
const oAdsBARed = [[528.9,0],[529.5,0.4],[530.0,1.9],[530.5,4.4],[530.9,6.4],[531.26,7.1],[531.6,6.4],[532.0,4.5],[532.5,2.0],[533.0,0.6],[533.6,0.05],[536.5,0.05]];
const oHydBARed = [[522.3,0],[528.5,0],[529.5,0.2],[530.3,0.8],[531.0,1.9],[531.7,3.3],[532.2,4.0],[532.6,4.2],[533.1,3.8],[533.7,2.8],[534.2,1.8],[534.8,0.9],[535.5,0.4],[536.5,0.3],[539.3,0.6]];

const oFitBAOxi = [[527.3,0.05],[527.9,0.3],[528.2,0.7],[528.6,3.2],[528.9,6.7],[529.15,9.8],[529.35,11.7],[529.6,13.5],[529.85,12.2],[530.1,9.7],[530.5,7.0],[530.9,6.3],[531.26,6.25],[531.7,5.5],[532.14,4.5],[532.6,3.7],[533.0,3.0],[533.5,2.3],[533.9,1.75],[534.5,1.25],[535.2,1.0]];
const oLatBAOxi = [[527.4,0],[528.0,0.1],[528.4,0.9],[528.8,4.0],[529.1,8.2],[529.4,11.6],[529.65,12.7],[529.9,11.4],[530.2,7.6],[530.5,3.7],[530.8,1.3],[531.2,0.2],[533.0,0.05]];
const oAdsBAOxi = [[522.3,0],[528.5,0],[529.2,0.2],[529.8,1.3],[530.3,2.8],[530.7,3.9],[531.08,4.35],[531.45,3.9],[531.9,2.6],[532.4,1.2],[532.9,0.4],[533.5,0.05],[538.6,0.85]];
const oHydBAOxi = [[528.5,0],[529.3,0.1],[530.0,0.6],[530.8,1.7],[531.5,2.8],[532.0,3.3],[532.3,3.35],[532.8,3.0],[533.4,2.1],[534.0,1.1],[534.6,0.4],[535.3,0.1],[536.0,0.05]];

const oGreen = [[528.3,0.05],[531.5,0.15],[534.8,0.3]];
const oArrowLat = [529.21,90.0,527.82,93.7];
const oArrowAds = [530.95,89.7,531.47,94.9];
const oArrowHyd = [533.46,89.7,535.07,92.7];

// ---------- drawing ----------
const OLIVE = '#808000', BLUE = '#0000ff', RED = '#ff0000', MAGENTA = '#ff00ff',
      VIOLET = '#ee82ee', GREEN = '#00e000', MAROON = '#8b0000';

Chart.defaults.font.family = "'Liberation Serif', 'Times New Roman', serif";
Chart.defaults.color = '#000';

function pts(pairs) { return pairs.map(p => ({ x: p[0], y: p[1] })); }
function gridPts(grid, vals) {
  const out = [];
  grid.forEach((e, i) => { if (vals[i] !== null) out.push({ x: e, y: vals[i] }); });
  return out;
}
function shifted(pairs, d) { return pairs.map(p => ({ x: p[0], y: p[1] + d })); }
function lineSet(data, color, width, smooth) {
  return { data, borderColor: color, borderWidth: width, pointRadius: 0, fill: false,
           tension: 0, cubicInterpolationMode: smooth ? 'monotone' : 'default' };
}
// first dataset in the list is painted first (bottom), last one on top
function stackOrder(list) { list.forEach((d, i) => { d.order = list.length - i; }); return list; }

const framePlugin = {
  id: 'frame',
  afterDraw(chart, args, opts) {
    const { ctx, chartArea: a } = chart;
    ctx.save();
    ctx.strokeStyle = opts.color;
    ctx.lineWidth = opts.width;
    ctx.strokeRect(a.left, a.top, a.right - a.left, a.bottom - a.top);
    ctx.restore();
  }
};

const arrowPlugin = {
  id: 'arrows',
  afterDatasetsDraw(chart, args, opts) {
    const { ctx, scales: { x, y } } = chart;
    (opts.list || []).forEach(a => {
      const x1 = x.getPixelForValue(a.p[0]), y1 = y.getPixelForValue(a.p[1]);
      const x2 = x.getPixelForValue(a.p[2]), y2 = y.getPixelForValue(a.p[3]);
      const ang = Math.atan2(y2 - y1, x2 - x1), h = a.head;
      ctx.save();
      ctx.strokeStyle = a.color;
      ctx.fillStyle = a.color;
      ctx.lineWidth = a.width;
      ctx.beginPath();
      ctx.moveTo(x1, y1);
      ctx.lineTo(x2 - Math.cos(ang) * h * 0.7, y2 - Math.sin(ang) * h * 0.7);
      ctx.stroke();
      ctx.beginPath();
      ctx.moveTo(x2, y2);
      ctx.lineTo(x2 - h * Math.cos(ang - 0.38), y2 - h * Math.sin(ang - 0.38));
      ctx.lineTo(x2 - h * Math.cos(ang + 0.38), y2 - h * Math.sin(ang + 0.38));
      ctx.closePath();
      ctx.fill();
      ctx.restore();
    });
  }
};

const topTicks = {
  id: 'topTicks',
  afterDraw(chart) {
    const { ctx, chartArea: a, scales: { x } } = chart;
    ctx.save();
    ctx.strokeStyle = '#000';
    ctx.lineWidth = 1.5;
    x.ticks.forEach(t => {
      const px = x.getPixelForValue(t.value);
      const len = Math.abs(t.value % 5) < 1e-6 ? 8 : 5;
      ctx.beginPath();
      ctx.moveTo(px, a.top);
      ctx.lineTo(px, a.top + len);
      ctx.stroke();
    });
    ctx.restore();
  }
};

const feSets = [
  { id: 'fe1', raw: feRawIO, fit: feFitIO, bg: feBgIO, green: feGreenIO, surf: feSurfIO,
    blue: [feB1IO, feB2IO, feB3IO, feB4IO], red: [], bgColor: MAGENTA, surfColor: MAGENTA, axis: 0,
    arrows: feArrowsFe3.map(p => ({ p, color: BLUE, width: 1.8, head: 10 }))
      .concat([{ p: feArrowSurface, color: MAGENTA, width: 2, head: 10 },
               { p: feArrowSatellite, color: '#000', width: 2, head: 10 }]) },
  { id: 'fe2', raw: feRawIORed, fit: feFitIORed, bg: feBgIORed, green: feGreenIORed, surf: feSurfIORed,
    blue: [feB1IORed, feB2IORed, feB3IORed, feB4IORed], red: [feR1IORed, feR2IORed, feR3IORed],
    bgColor: VIOLET, surfColor: VIOLET, axis: 0,
    arrows: feArrowsFe2IO.map(p => ({ p, color: RED, width: 2, head: 10 })) },
  { id: 'fe3', raw: feRawIOOxi, fit: feFitIOOxi, bg: feBgIOOxi, green: feGreenIOOxi, surf: feSurfIOOxi,
    blue: [feB1IOOxi, feB2IOOxi, feB3IOOxi, feB4IOOxi], red: [], bgColor: MAGENTA, surfColor: MAGENTA, axis: 0, arrows: [] },
  { id: 'fe4', raw: feRawBA, fit: feFitBA, bg: feBgBA, green: feGreenBA, surf: feSurfBA,
    blue: [feB1BA, feB2BA, feB3BA, feB4BA], red: [], bgColor: MAGENTA, surfColor: MAGENTA, axis: 1, arrows: [] },
  { id: 'fe5', raw: feRawBARed, fit: feFitBARed, bg: feBgBARed, green: feGreenBARed, surf: feSurfBARed,
    blue: [feB1BARed, feB2BARed, feB3BARed, feB4BARed], red: [feR1BARed, feR2BARed, feR3BARed],
    bgColor: BLUE, surfColor: VIOLET, axis: 2,
    arrows: feArrowsFe2BA.map(p => ({ p, color: RED, width: 2, head: 10 })) },
  { id: 'fe6', raw: feRawBAOxi, fit: feFitBAOxi, bg: feBgBAOxi, green: feGreenBAOxi, surf: feSurfBAOxi,
    blue: [feB1BAOxi, feB2BAOxi, feB3BAOxi, feB4BAOxi], red: [], bgColor: MAGENTA, surfColor: MAGENTA, axis: 1, arrows: [] }
];

feSets.forEach(s => {
  const ds = [lineSet(gridPts(feGrid, s.raw), OLIVE, 1.8, false), lineSet(pts(s.fit), '#000', 3, true)];
  ds.push(lineSet(pts(s.green), GREEN, 3, true));
  s.blue.forEach(b => ds.push(lineSet(pts(b), BLUE, 3, true)));
  s.red.forEach(r => ds.push(lineSet(pts(r), RED, 3, true)));
  ds.push(lineSet(pts(s.surf), s.surfColor, 3, true));
  ds.push(lineSet(pts(s.bg), s.bgColor, 3, true));
  const axisH = s.axis === 2 ? 98 : (s.axis === 1 ? 62 : 0);
  new Chart(document.getElementById(s.id), {
    type: 'line',
    data: { datasets: stackOrder(ds) },
    plugins: [framePlugin, arrowPlugin],
    options: {
      responsive: false, animation: false, events: [],
      layout: { padding: { left: 2, right: 2, top: 2, bottom: s.axis ? 0 : 2 } },
      plugins: { legend: { display: false }, tooltip: { enabled: false },
                 frame: { color: '#444', width: 1.3 }, arrows: { list: s.arrows } },
      scales: {
        x: {
          type: 'linear', min: 700, max: 721, display: s.axis > 0,
          afterFit: sc => { sc.height = axisH; },
          grid: { drawOnChartArea: false, drawTicks: true, tickLength: 5, color: '#444', lineWidth: 1 },
          border: { display: false },
          ticks: { stepSize: 2, includeBounds: false, autoSkip: false, maxRotation: 0, padding: 1,
                   font: { size: 27 }, color: '#000',
                   callback: v => (Math.round(v - 702) % 4 === 0 ? String(v) : '') },
          title: { display: s.axis === 2, text: 'Binding energy (eV)', font: { size: 35 }, color: '#000', padding: 0 }
        },
        y: { min: 0, max: 100, display: false }
      }
    }
  });
});

// (b) stacked O 1s spectra
const oSpectra = [
  { raw: oRawIO, fit: oFitIO, lat: oLatIO, ads: oAdsIO, hyd: oHydIO, longBlue: false },
  { raw: oRawBA, fit: oFitBA, lat: oLatBA, ads: oAdsBA, hyd: oHydBA, longBlue: false },
  { raw: oRawIORed, fit: oFitIORed, lat: oLatIORed, ads: oAdsIORed, hyd: oHydIORed, longBlue: false },
  { raw: oRawIOOxi, fit: oFitIOOxi, lat: oLatIOOxi, ads: oAdsIOOxi, hyd: oHydIOOxi, longBlue: true },
  { raw: oRawBARed, fit: oFitBARed, lat: oLatBARed, ads: oAdsBARed, hyd: oHydBARed, longBlue: false },
  { raw: oRawBAOxi, fit: oFitBAOxi, lat: oLatBAOxi, ads: oAdsBAOxi, hyd: oHydBAOxi, longBlue: true }
];
const oSets = [];
oSpectra.forEach((s, k) => {
  const d = oStackShift[k];
  oSets.push({ label: oSamples[k], data: gridPts(oGrid, s.raw).map(p => ({ x: p.x, y: p.y + d })),
    showLine: false, pointRadius: 3.6, pointBorderWidth: 1.2, pointBorderColor: '#444',
    pointBackgroundColor: '#fff', borderColor: '#444' });
});
oSpectra.forEach((s, k) => {
  const d = oStackShift[k];
  oSets.push(lineSet(shifted(oGreen, d), GREEN, 2.8, true));
  if (s.longBlue) {
    oSets.push(lineSet(shifted(s.hyd, d), MAROON, 2.8, true));
    oSets.push(lineSet(shifted(s.ads, d), BLUE, 2.8, true));
  } else {
    oSets.push(lineSet(shifted(s.ads, d), BLUE, 2.8, true));
    oSets.push(lineSet(shifted(s.hyd, d), MAROON, 2.8, true));
  }
  oSets.push(lineSet(shifted(s.lat, d), RED, 2.8, true));
  oSets.push(lineSet(shifted(s.fit, d), '#000', 3, true));
});

new Chart(document.getElementById('o1s'), {
  type: 'line',
  data: { datasets: stackOrder(oSets) },
  plugins: [framePlugin, arrowPlugin, topTicks],
  options: {
    responsive: false, animation: false, events: [],
    layout: { padding: { left: 2, right: 2, top: 2, bottom: 0 } },
    plugins: { legend: { display: false }, tooltip: { enabled: false },
               frame: { color: '#111', width: 2 },
               arrows: { list: [
                 { p: oArrowLat, color: RED, width: 1.5, head: 8 },
                 { p: oArrowAds, color: BLUE, width: 1.5, head: 8 },
                 { p: oArrowHyd, color: MAROON, width: 1.5, head: 8 } ] } },
    scales: {
      x: {
        type: 'linear', min: 522, max: 544,
        afterFit: sc => { sc.height = 90; },
        grid: { drawOnChartArea: false, drawTicks: true, tickLength: 7, color: '#000', lineWidth: 1.5 },
        border: { display: false },
        ticks: { stepSize: 2.5, includeBounds: false, autoSkip: false, maxRotation: 0, padding: 6,
                 font: { size: 26 }, color: '#000',
                 callback: v => (Math.abs(v % 5) < 1e-6 ? String(v) : '') },
        title: { display: true, text: 'Binding energy (eV)', font: { size: 32 }, color: '#000', padding: 0 }
      },
      y: { min: 0, max: 100, display: false }
    }
  }
});
</script>
</body>
</html>
